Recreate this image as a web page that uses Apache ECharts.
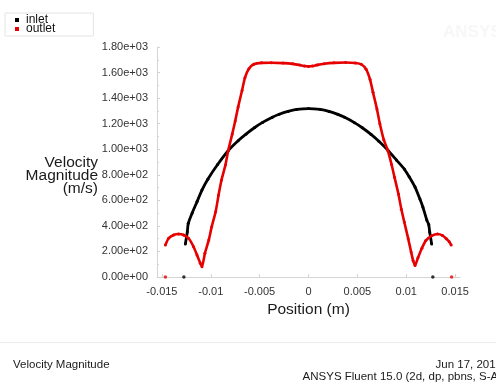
<!DOCTYPE html>
<html>
<head>
<meta charset="utf-8">
<script src="https://cdn.jsdelivr.net/npm/echarts@6/dist/echarts.min.js"></script>
<style>
  html, body { margin: 0; padding: 0; background: #fff; }
  #chart { width: 496px; height: 385px; }
</style>
</head>
<body>
<div id="chart"></div>
<script>
// Tick labels
const xTicks = [-0.015, -0.01, -0.005, 0, 0.005, 0.01, 0.015];
const yTicks = [0, 200, 400, 600, 800, 1000, 1200, 1400, 1600, 1800];

// Inlet velocity magnitude profile (m, m/s)
const inletX = [-0.0126, -0.0124, -0.0123, -0.0119, -0.0114, -0.0109, -0.0103, -0.0093, -0.0082,
  -0.0072, -0.0064, -0.0055, -0.0047, -0.0037, -0.0030, -0.0021, -0.0012, 0,
  0.0012, 0.0021, 0.0030, 0.0037, 0.0047, 0.0055, 0.0064, 0.0072, 0.0081,
  0.0090, 0.0098, 0.0103, 0.0109, 0.0114, 0.0117, 0.0121, 0.0123, 0.0124, 0.0126];
const inletV = [258, 352, 420, 501, 590, 680, 765, 880, 990,
  1066, 1118, 1170, 1210, 1251, 1274, 1296, 1311, 1318,
  1311, 1296, 1273, 1250, 1208, 1168, 1116, 1062, 994,
  915, 845, 785, 704, 610, 548, 446, 410, 352, 258];

// Outlet velocity magnitude profile (m, m/s)
const outletX = [-0.01464, -0.01431, -0.0138, -0.01329, -0.01278, -0.01227, -0.01176, -0.01141, -0.01107, -0.0109,
  -0.0106, -0.0102, -0.0099, -0.0095, -0.0092, -0.0089, -0.0085, -0.0082, -0.0078, -0.0075,
  -0.0072, -0.0068, -0.0065, -0.0061, -0.0056, -0.0048, -0.0038, -0.0026, -0.0016, -0.0009,
  -0.0004, 0, 0.0004, 0.0009, 0.0016, 0.0026, 0.0038, 0.0048, 0.0054, 0.0059,
  0.0063, 0.0066, 0.007, 0.0073, 0.0077, 0.0081, 0.0085, 0.0088, 0.0092, 0.0095,
  0.0098, 0.0102, 0.0105, 0.0107, 0.0109, 0.0112, 0.0116, 0.012, 0.0126, 0.0132,
  0.0137, 0.0141, 0.0144, 0.0146];
const outletV = [250, 303, 329, 336, 329, 303, 237, 172, 107, 81,
  185, 290, 394, 511, 642, 759, 876, 994, 1120, 1220,
  1330, 1460, 1560, 1630, 1665, 1676, 1677, 1674, 1668, 1659,
  1651, 1648, 1651, 1660, 1669, 1676, 1679, 1675, 1665, 1625,
  1545, 1445, 1315, 1200, 1075, 994, 880, 780, 650, 530,
  430, 300, 195, 130, 90, 150, 225, 285, 322, 336,
  325, 300, 276, 250];

// Wall nodes (zero velocity)
const inletWallX = [-0.01275, 0.01272];
const inletWallV = [0, 0];
const outletWallX = [-0.01464, 0.01464];
const outletWallV = [0, 0];

const pairs = (xs, vs) => xs.map((x, i) => [x, vs[i]]);
const FONT = "'Liberation Sans', Arial, sans-serif";
const INLET = '#000000';
const OUTLET = '#e60000';
const AXIS = '#d4d4d4';

const expLabel = v => v.toExponential(2).replace(/e([+-])(\d)$/, 'e$10$2');

const chart = echarts.init(document.getElementById('chart'), null, { renderer: 'canvas' });

chart.setOption({
  animation: false,
  backgroundColor: '#ffffff',
  textStyle: { fontFamily: FONT },
  legend: {
    data: [
      { name: 'inlet', icon: 'rect', itemStyle: { color: INLET } },
      { name: 'outlet', icon: 'rect', itemStyle: { color: OUTLET } }
    ],
    orient: 'vertical',
    left: 5,
    top: 13,
    itemWidth: 4,
    itemHeight: 4,
    itemGap: -3,
    padding: [1, 38, 1, 10],
    borderColor: '#e4e4e4',
    borderWidth: 1,
    backgroundColor: '#fff',
    selectedMode: false,
    textStyle: { fontFamily: FONT, fontSize: 12, color: '#111', lineHeight: 9, padding: [0, 0, 0, 2] }
  },
  grid: { left: 157, right: 36, top: 47, bottom: 108 },
  xAxis: {
    type: 'value',
    min: -0.0155,
    max: 0.0155,
    name: 'Position (m)',
    nameLocation: 'middle',
    nameGap: 24,
    nameTextStyle: { fontFamily: FONT, fontSize: 15.5, color: '#1a1a1a' },
    axisLine: { show: true, onZero: false, lineStyle: { color: AXIS, width: 1 } },
    axisTick: { show: true, inside: true, length: 3, customValues: xTicks, lineStyle: { color: AXIS } },
    axisLabel: {
      customValues: xTicks,
      margin: 9,
      fontFamily: FONT,
      fontSize: 11,
      color: '#333',
      formatter: v => String(v)
    },
    splitLine: { show: false }
  },
  yAxis: {
    type: 'value',
    min: 0,
    max: yTicks[yTicks.length - 1],
    interval: yTicks[1] - yTicks[0],
    axisLine: { show: true, onZero: false, lineStyle: { color: AXIS, width: 1 } },
    axisTick: { show: true, inside: true, length: 3, lineStyle: { color: AXIS } },
    minorTick: { show: true, splitNumber: 2, length: 2, lineStyle: { color: AXIS } },
    axisLabel: { margin: 9, fontFamily: FONT, fontSize: 11, color: '#333', formatter: expLabel },
    splitLine: { show: false }
  },
  series: [
    {
      name: 'inlet',
      type: 'line',
      data: pairs(inletX, inletV),
      smooth: 0.25,
      symbol: 'circle',
      symbolSize: 3,
      showSymbol: true,
      itemStyle: { color: INLET },
      lineStyle: { color: INLET, width: 2.8 },
      z: 3
    },
    {
      name: 'outlet',
      type: 'line',
      data: pairs(outletX, outletV),
      smooth: 0.2,
      symbol: 'circle',
      symbolSize: 3,
      showSymbol: true,
      itemStyle: { color: OUTLET },
      lineStyle: { color: OUTLET, width: 2.6 },
      z: 4
    },
    {
      name: 'inlet',
      type: 'scatter',
      data: pairs(inletWallX, inletWallV),
      symbol: 'circle',
      symbolSize: 3.5,
      itemStyle: { color: INLET },
      z: 3
    },
    {
      name: 'outlet',
      type: 'scatter',
      data: pairs(outletWallX, outletWallV),
      symbol: 'circle',
      symbolSize: 3.5,
      itemStyle: { color: OUTLET },
      z: 4
    }
  ],
  graphic: [
    {
      // y-axis title, right-aligned beside the tick labels
      type: 'text', silent: true, x: 98, y: 176,
      style: {
        text: 'Velocity\nMagnitude\n(m/s)', fontFamily: FONT, fontSize: 15.5, lineHeight: 13,
        fill: '#1a1a1a', align: 'right', verticalAlign: 'middle'
      }
    },
    {
      type: 'text', left: 443, top: 24, silent: true,
      style: { text: 'ANSYS', fontFamily: FONT, fontSize: 17, fontWeight: 'bold', fill: '#f7f7f7' }
    },
    {
      type: 'line', silent: true,
      shape: { x1: 0, y1: 342.5, x2: 496, y2: 342.5 },
      style: { stroke: '#ececec', lineWidth: 1 }
    },
    {
      type: 'text', left: 13, top: 359, silent: true,
      style: { text: 'Velocity Magnitude', fontFamily: FONT, fontSize: 11.5, fill: '#1a1a1a' }
    },
    {
      type: 'text', silent: true, x: 502, y: 365,
      style: { text: 'Jun 17, 2015', fontFamily: FONT, fontSize: 11.5, fill: '#1a1a1a', align: 'right', verticalAlign: 'middle' }
    },
    {
      type: 'text', silent: true, x: 502, y: 377,
      style: { text: 'ANSYS Fluent 15.0 (2d, dp, pbns, S-A)', fontFamily: FONT, fontSize: 11.5, fill: '#1a1a1a', align: 'right', verticalAlign: 'middle' }
    }
  ]
});
</script>
</body>
</html>
